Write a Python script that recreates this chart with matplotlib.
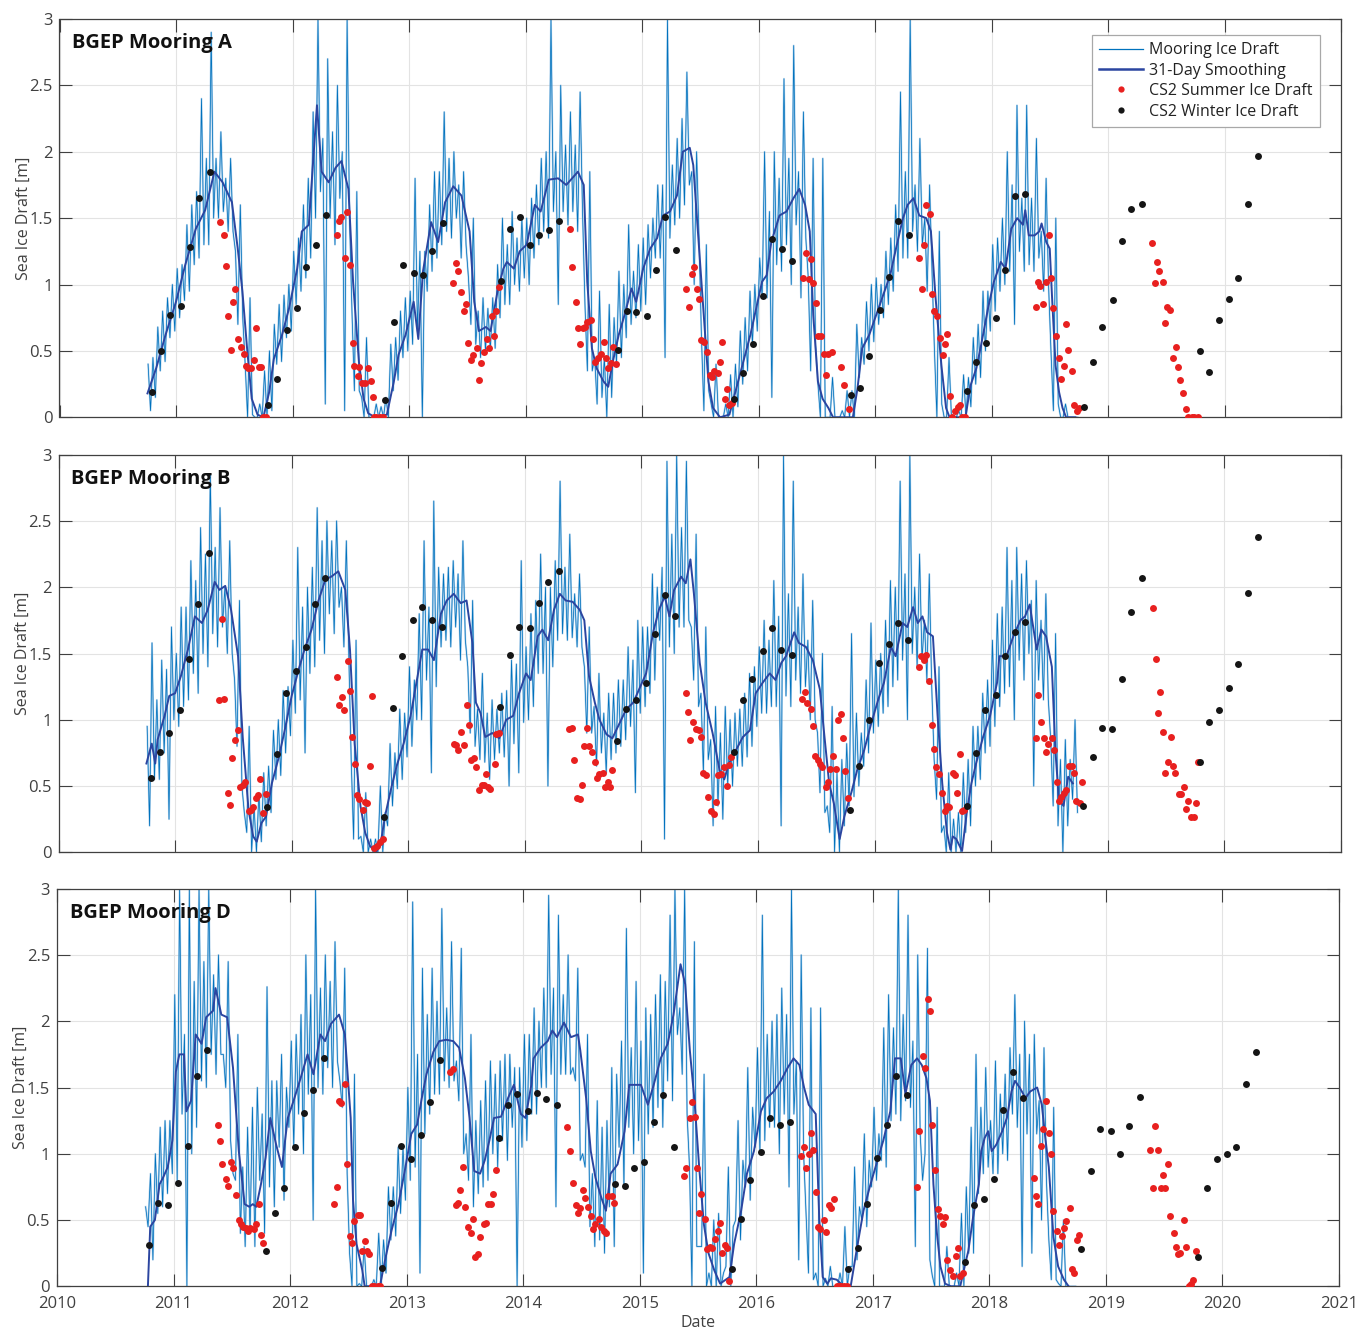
import numpy as np
import matplotlib.pyplot as plt
from matplotlib.lines import Line2D

plt.rcParams['font.family'] = ['Open Sans', 'DejaVu Sans']

# ---- mooring ice draft, monthly Oct 2010 .. Sep 2018 ----
# extremes of the daily record (spike tops / spike bottoms)
draft_hi_a = [0.45, 0.8, 1.0,
              1.15, 1.6, 2.4, 2.9, 2.15, 1.95, 1.6, 0.9, 0.1, 0.5, 0.85, 1.0,
              1.35, 1.8, 3.0, 2.7, 2.5, 3.0, 1.7, 0.6, 0.1, 0.15, 0.6, 0.9,
              1.8, 1.25, 1.85, 2.3, 2.0, 1.85, 1.5, 0.9, 0.9, 1.5, 1.55, 1.5,
              1.65, 1.95, 3.0, 2.5, 2.3, 2.45, 1.85, 0.95, 0.85, 1.1, 1.45, 1.3,
              1.45, 1.75, 3.0, 2.1, 2.6, 2.0, 1.3, 0.4, 0.1, 0.4, 0.75, 1.0,
              2.0, 2.0, 2.55, 2.8, 2.3, 1.95, 1.95, 0.3, 0.05, 0.2, 0.6, 1.0,
              1.0, 1.35, 2.45, 3.0, 2.1, 1.75, 1.4, 0.45, 0.05, 0.3, 0.7, 0.95,
              1.35, 2.0, 2.35, 2.35, 2.1, 1.8, 1.5, 0.1, 0.0]
draft_lo_a = [0.05, 0.35, 0.6,
              0.75, 0.95, 1.2, 1.3, 1.5, 1.4, 0.7, 0.0, 0.0, 0.0, 0.4, 0.6,
              0.85, 1.05, 1.5, 0.1, 1.3, 0.05, 0.2, 0.0, 0.0, 0.0, 0.2, 0.45,
              0.55, 0.0, 1.1, 1.3, 1.35, 1.2, 0.7, 0.45, 0.5, 0.75, 0.85, 0.95,
              1.0, 1.3, 1.35, 0.85, 1.45, 1.4, 0.35, 0.1, 0.0, 0.4, 0.6, 0.75,
              0.85, 1.2, 0.45, 1.45, 1.6, 1.0, 0.05, 0.0, 0.0, 0.0, 0.25, 0.55,
              0.9, 0.15, 1.1, 1.0, 0.9, 0.35, 0.0, 0.0, 0.0, 0.0, 0.3, 0.5,
              0.7, 0.85, 1.1, 1.2, 1.25, 0.95, 0.0, 0.0, 0.0, 0.0, 0.25, 0.5,
              0.8, 1.0, 0.7, 1.1, 1.1, 0.95, 0.05, 0.0, 0.0]
# typical upper / lower edge of the daily band
band_hi_a = [0.4, 0.68, 0.9,
             1.12, 1.45, 1.7, 1.95, 1.95, 1.8, 1.25, 0.4, 0.0, 0.35, 0.7, 0.92,
             1.25, 1.6, 2.3, 2.1, 2.15, 2.0, 0.8, 0.15, 0.0, 0.08, 0.55, 0.8,
             0.95, 1.25, 1.6, 1.85, 1.95, 1.75, 1.05, 0.8, 0.82, 1.15, 1.3, 1.35,
             1.5, 1.75, 2.0, 2.0, 2.05, 2.05, 0.85, 0.45, 0.45, 0.75, 1.0, 1.1,
             1.35, 1.5, 1.75, 1.9, 2.25, 1.85, 0.6, 0.1, 0.0, 0.32, 0.65, 0.95,
             1.2, 1.55, 1.8, 1.95, 1.85, 1.05, 0.25, 0.0, 0.0, 0.2, 0.7, 0.87,
             1.05, 1.25, 1.6, 1.85, 1.75, 1.5, 0.5, 0.0, 0.0, 0.32, 0.6, 0.95,
             1.3, 1.5, 1.75, 1.65, 1.65, 1.4, 0.5, 0.0, 0.0]
band_lo_a = [0.15, 0.42, 0.65,
             0.88, 1.15, 1.3, 1.5, 1.55, 1.4, 0.75, 0.02, 0.0, 0.05, 0.42, 0.65,
             0.95, 1.2, 1.7, 1.5, 1.65, 1.5, 0.2, 0.0, 0.0, 0.0, 0.28, 0.5,
             0.65, 0.95, 1.2, 1.4, 1.5, 1.3, 0.55, 0.5, 0.52, 0.85, 1.0, 1.05,
             1.2, 1.4, 1.55, 1.55, 1.55, 1.55, 0.35, 0.15, 0.15, 0.45, 0.7, 0.8,
             1.05, 1.2, 1.35, 1.5, 1.75, 1.35, 0.2, 0.0, 0.0, 0.08, 0.35, 0.65,
             0.9, 1.15, 1.3, 1.45, 1.35, 0.55, 0.0, 0.0, 0.0, 0.0, 0.4, 0.57,
             0.75, 0.95, 1.2, 1.4, 1.3, 1.1, 0.1, 0.0, 0.0, 0.08, 0.3, 0.65,
             0.95, 1.1, 1.25, 1.15, 1.2, 1.0, 0.1, 0.0, 0.0]

draft_hi_b = [1.58, 1.45, 1.7,
              1.85, 2.2, 2.45, 2.85, 2.6, 2.35, 1.9, 0.95, 0.45, 0.65, 1.0, 1.25,
              2.3, 2.0, 2.6, 2.5, 2.5, 2.35, 1.6, 0.45, 0.1, 0.3, 0.75, 1.05,
              1.3, 2.35, 2.65, 2.1, 2.2, 2.35, 1.9, 1.35, 1.15, 1.2, 1.45, 2.2,
              1.8, 2.25, 2.0, 2.8, 2.4, 2.1, 1.7, 1.35, 1.2, 1.3, 1.55, 1.75,
              1.7, 2.0, 2.95, 3.0, 2.95, 2.4, 1.7, 1.1, 1.1, 1.05, 1.2, 1.4,
              1.75, 2.05, 3.0, 2.8, 2.1, 1.9, 1.5, 1.1, 0.7, 1.65, 0.9, 1.73,
              1.5, 2.05, 2.8, 3.0, 2.25, 2.1, 1.4, 0.6, 0.3, 0.7, 0.95, 1.3,
              1.8, 2.3, 2.3, 2.2, 2.05, 1.95, 1.65, 0.85, 1.0]
draft_lo_b = [0.2, 0.55, 0.25,
              0.95, 1.15, 1.2, 1.4, 1.55, 1.5, 0.8, 0.15, 0.0, 0.2, 0.55, 0.75,
              1.05, 0.75, 1.4, 1.5, 1.65, 1.55, 0.1, 0.0, 0.0, 0.0, 0.35, 0.55,
              0.8, 1.0, 0.6, 1.55, 1.55, 1.45, 0.9, 0.7, 0.55, 0.75, 0.5, 0.6,
              1.0, 1.35, 0.5, 1.6, 1.6, 1.55, 0.9, 0.65, 0.6, 0.75, 0.85, 0.45,
              1.1, 1.3, 0.1, 1.5, 1.7, 1.3, 0.6, 0.2, 0.25, 0.5, 0.65, 0.8,
              1.05, 1.1, 0.2, 1.1, 1.2, 1.0, 0.45, 0.15, 0.0, 0.35, 0.5, 0.75,
              0.95, 1.1, 1.3, 1.0, 1.4, 1.3, 0.4, 0.0, 0.0, 0.15, 0.5, 0.75,
              0.95, 1.2, 1.0, 1.3, 0.5, 1.15, 0.35, 0.0, 0.4]
band_hi_b = [0.95, 1.15, 1.38,
             1.5, 1.85, 2.05, 2.25, 2.3, 2.0, 1.3, 0.3, 0.35, 0.6, 0.92, 1.22,
             1.6, 1.85, 2.15, 2.35, 2.35, 2.0, 0.7, 0.12, 0.1, 0.5, 0.82, 1.08,
             1.4, 1.8, 1.85, 2.15, 2.15, 2.1, 1.4, 1.08, 1.05, 1.08, 1.22, 1.42,
             1.55, 1.9, 2.0, 2.2, 2.15, 1.95, 1.4, 1.1, 1.05, 1.2, 1.3, 1.45,
             1.7, 2.1, 2.15, 2.4, 2.45, 1.7, 1.2, 0.85, 0.9, 1.0, 1.08, 1.35,
             1.55, 1.6, 1.78, 1.95, 1.85, 1.6, 0.9, 0.35, 0.6, 0.82, 1.05, 1.3,
             1.45, 1.75, 2.0, 2.1, 2.0, 1.75, 0.7, 0.2, 0.25, 0.6, 0.95, 1.2,
             1.6, 1.85, 2.05, 2.1, 1.9, 1.75, 0.85, 0.7, 0.7]
band_lo_b = [0.55, 0.75, 1.0,
             1.1, 1.35, 1.5, 1.65, 1.7, 1.5, 0.5, 0.0, 0.08, 0.3, 0.58, 0.88,
             1.15, 1.35, 1.6, 1.8, 1.85, 1.5, 0.1, 0.0, 0.0, 0.2, 0.48, 0.72,
             1.0, 1.3, 1.25, 1.6, 1.7, 1.6, 0.8, 0.68, 0.7, 0.72, 0.82, 0.98,
             1.1, 1.35, 1.4, 1.65, 1.62, 1.55, 0.9, 0.75, 0.7, 0.8, 0.95, 1.05,
             1.2, 1.6, 1.55, 1.7, 1.75, 1.1, 0.7, 0.35, 0.5, 0.65, 0.72, 0.95,
             1.05, 1.1, 1.18, 1.3, 1.25, 1.0, 0.3, 0.0, 0.2, 0.42, 0.65, 0.9,
             1.05, 1.25, 1.45, 1.5, 1.45, 1.25, 0.15, 0.0, 0.0, 0.2, 0.55, 0.8,
             1.1, 1.25, 1.45, 1.5, 1.3, 1.15, 0.2, 0.2, 0.3]

draft_hi_d = [0.85, 1.2, 1.25,
              3.0, 3.0, 3.0, 3.0, 2.5, 2.45, 1.9, 1.2, 1.5, 2.26, 1.55, 1.5,
              1.9, 2.5, 3.0, 2.5, 2.6, 2.4, 1.6, 0.3, 0.05, 0.35, 0.75, 1.05,
              2.9, 2.4, 2.4, 2.85, 2.6, 2.55, 1.9, 1.4, 1.7, 1.7, 1.75, 1.65,
              1.9, 2.0, 2.95, 2.8, 2.5, 2.4, 1.9, 1.4, 1.25, 1.6, 2.7, 2.3,
              2.1, 2.2, 2.3, 3.0, 3.0, 2.6, 1.6, 0.5, 0.1, 0.45, 0.95, 1.35,
              2.8, 2.0, 2.25, 3.0, 2.5, 2.1, 2.1, 0.15, 0.1, 0.15, 0.6, 0.95,
              1.15, 2.2, 3.0, 2.8, 2.5, 2.55, 1.35, 0.3, 0.1, 0.75, 1.75, 1.65,
              1.7, 1.6, 2.2, 2.0, 1.9, 1.8, 1.35, 0.5, 0.0]
draft_lo_d = [0.45, 0.55, 0.7,
              0.8, 0.0, 1.2, 1.5, 1.6, 1.5, 0.8, 0.3, 0.3, 0.4, 0.6, 0.65,
              1.05, 1.0, 0.5, 1.45, 1.5, 1.35, 0.0, 0.0, 0.0, 0.0, 0.35, 0.55,
              0.8, 0.1, 1.3, 1.45, 1.5, 1.4, 0.8, 0.7, 0.8, 0.9, 0.95, 0.0,
              1.1, 1.3, 1.5, 0.6, 1.6, 1.55, 0.9, 0.3, 0.25, 0.3, 0.75, 1.0,
              0.1, 1.2, 1.2, 1.4, 1.6, 0.0, 0.3, 0.0, 0.0, 0.0, 0.35, 0.65,
              1.0, 1.2, 1.0, 0.75, 0.2, 0.1, 0.0, 0.0, 0.0, 0.0, 0.2, 0.45,
              0.8, 0.9, 1.3, 1.4, 0.3, 1.0, 0.0, 0.0, 0.0, 0.0, 0.25, 0.85,
              0.85, 1.0, 1.3, 0.15, 0.25, 0.5, 0.05, 0.0, 0.0]
band_hi_d = [0.6, 1.0, 1.25,
             2.2, 1.9, 2.3, 2.45, 2.35, 1.75, 0.85, 0.9, 1.35, 1.3, 1.55, 1.75,
             1.85, 2.05, 2.2, 2.25, 2.3, 1.55, 0.25, 0.02, 0.0, 0.4, 0.75, 1.05,
             1.5, 1.75, 2.05, 2.15, 2.1, 1.7, 1.15, 1.25, 1.55, 1.6, 1.75, 1.65,
             1.9, 2.1, 2.25, 2.25, 2.2, 1.65, 1.0, 0.85, 1.2, 1.65, 1.85, 1.8,
             1.85, 2.05, 2.35, 2.8, 2.1, 0.9, 0.3, 0.1, 0.55, 0.9, 1.25, 1.65,
             1.8, 1.9, 2.05, 2.05, 1.7, 0.55, 0.1, 0.06, 0.0, 0.45, 0.9, 1.15,
             1.35, 1.95, 1.95, 2.05, 1.85, 0.8, 0.08, 0.0, 0.0, 0.55, 1.2, 1.35,
             1.25, 1.45, 1.8, 1.75, 1.75, 1.4, 0.35, 0.02, 0.0]
band_lo_d = [0.2, 0.6, 0.85,
             1.3, 1.0, 1.55, 1.75, 1.75, 1.1, 0.4, 0.4, 0.8, 0.75, 1.05, 1.2,
             1.3, 1.45, 1.5, 1.65, 1.7, 0.85, 0.0, 0.0, 0.0, 0.1, 0.38, 0.65,
             0.9, 1.15, 1.45, 1.55, 1.55, 1.0, 0.6, 0.75, 1.0, 1.1, 1.2, 1.05,
             1.3, 1.5, 1.6, 1.6, 1.6, 0.95, 0.45, 0.35, 0.6, 1.05, 1.2, 1.1,
             1.15, 1.35, 1.55, 1.9, 1.3, 0.3, 0.0, 0.0, 0.15, 0.5, 0.75, 1.05,
             1.1, 1.2, 1.3, 1.3, 1.0, 0.05, 0.0, 0.0, 0.0, 0.15, 0.5, 0.75,
             0.95, 1.25, 1.25, 1.35, 1.15, 0.2, 0.0, 0.0, 0.0, 0.25, 0.7, 0.9,
             0.85, 0.95, 1.2, 1.15, 1.15, 0.8, 0.05, 0.0, 0.0]

# ---- 31-day smoothed draft ----
smooth_t_a = [2010.755, 2010.83, 2010.91, 2011.0, 2011.08, 2011.17, 2011.25, 2011.33, 2011.40, 2011.48,
              2011.53, 2011.57, 2011.61, 2011.65, 2011.70, 2011.75, 2011.80, 2011.84, 2011.91, 2011.97,
              2012.04, 2012.08, 2012.14, 2012.21, 2012.25, 2012.31, 2012.37, 2012.42, 2012.48, 2012.52,
              2012.57, 2012.61, 2012.65, 2012.71, 2012.81, 2012.87, 2012.91, 2012.97, 2013.04, 2013.08,
              2013.12, 2013.19, 2013.25, 2013.31, 2013.38, 2013.45, 2013.52, 2013.56, 2013.60, 2013.66,
              2013.70, 2013.76, 2013.81, 2013.84, 2013.90, 2013.95, 2014.01, 2014.08, 2014.13, 2014.20,
              2014.28, 2014.35, 2014.40, 2014.45, 2014.50, 2014.53, 2014.57, 2014.61, 2014.67, 2014.71,
              2014.75, 2014.80, 2014.85, 2014.91, 2014.95, 2015.01, 2015.07, 2015.13, 2015.18, 2015.24,
              2015.30, 2015.35, 2015.41, 2015.44, 2015.48, 2015.53, 2015.57, 2015.61, 2015.67, 2015.75,
              2015.81, 2015.87, 2015.93, 2015.98, 2016.03, 2016.07, 2016.11, 2016.18, 2016.24, 2016.30,
              2016.35, 2016.40, 2016.44, 2016.47, 2016.51, 2016.55, 2016.60, 2016.64, 2016.81, 2016.85,
              2016.89, 2016.95, 2017.01, 2017.07, 2017.13, 2017.18, 2017.24, 2017.28, 2017.33, 2017.38,
              2017.44, 2017.48, 2017.52, 2017.57, 2017.61, 2017.64, 2017.76, 2017.78, 2017.82, 2017.87,
              2017.91, 2017.97, 2018.02, 2018.08, 2018.12, 2018.17, 2018.22, 2018.27, 2018.29, 2018.32,
              2018.37, 2018.41, 2018.43, 2018.47, 2018.50, 2018.52, 2018.55, 2018.58, 2018.61, 2018.64,
              2018.72]
smooth_v_a = [0.18, 0.37, 0.62, 0.87, 1.15, 1.42, 1.56, 1.85, 1.77, 1.62,
              1.27, 0.95, 0.52, 0.14, 0.02, 0.0, 0.19, 0.44, 0.62, 0.82,
              1.12, 1.40, 1.45, 2.35, 1.85, 1.77, 1.88, 1.93, 1.72, 1.02,
              0.42, 0.14, 0.03, 0.0, 0.02, 0.27, 0.47, 0.62, 0.87, 0.59,
              1.10, 1.47, 1.32, 1.62, 1.74, 1.67, 1.40, 0.87, 0.65, 0.68,
              0.65, 0.95, 1.12, 1.17, 1.12, 1.25, 1.30, 1.60, 1.55, 1.79,
              1.80, 1.75, 1.80, 1.85, 1.75, 1.02, 0.52, 0.37, 0.27, 0.23,
              0.42, 0.62, 0.77, 0.97, 0.87, 1.12, 1.27, 1.35, 1.52, 1.55,
              1.67, 2.00, 2.03, 1.90, 1.40, 0.77, 0.27, 0.07, 0.0, 0.02,
              0.22, 0.42, 0.62, 0.82, 1.02, 1.07, 1.32, 1.52, 1.55, 1.65,
              1.72, 1.60, 1.40, 0.77, 0.27, 0.14, 0.07, 0.0, 0.0, 0.22,
              0.52, 0.62, 0.77, 0.92, 1.07, 1.27, 1.50, 1.60, 1.65, 1.52,
              1.50, 1.40, 0.90, 0.39, 0.07, 0.0, 0.0, 0.02, 0.24, 0.37,
              0.54, 0.82, 1.02, 1.17, 1.12, 1.42, 1.50, 1.45, 1.56, 1.37,
              1.37, 1.40, 1.46, 1.32, 1.27, 0.90, 0.39, 0.19, 0.07, 0.0,
              0.0]

smooth_t_b = [2010.754, 2010.80, 2010.83, 2010.85, 2010.91, 2010.95, 2011.0, 2011.05, 2011.11, 2011.17,
              2011.23, 2011.28, 2011.34, 2011.38, 2011.43, 2011.48, 2011.54, 2011.58, 2011.63, 2011.67,
              2011.70, 2011.74, 2011.78, 2011.83, 2011.89, 2011.94, 2012.0, 2012.06, 2012.11, 2012.17,
              2012.23, 2012.29, 2012.34, 2012.40, 2012.46, 2012.50, 2012.54, 2012.59, 2012.63, 2012.67,
              2012.72, 2012.76, 2012.80, 2012.85, 2012.90, 2012.96, 2013.02, 2013.06, 2013.12, 2013.17,
              2013.22, 2013.28, 2013.33, 2013.39, 2013.45, 2013.50, 2013.55, 2013.58, 2013.62, 2013.66,
              2013.72, 2013.78, 2013.84, 2013.90, 2013.95, 2014.01, 2014.05, 2014.11, 2014.15, 2014.20,
              2014.25, 2014.30, 2014.35, 2014.41, 2014.47, 2014.51, 2014.55, 2014.60, 2014.64, 2014.70,
              2014.75, 2014.81, 2014.87, 2014.93, 2014.98, 2015.04, 2015.10, 2015.15, 2015.20, 2015.24,
              2015.28, 2015.34, 2015.38, 2015.42, 2015.45, 2015.50, 2015.55, 2015.61, 2015.67, 2015.71,
              2015.75, 2015.81, 2015.87, 2015.93, 2015.98, 2016.04, 2016.10, 2016.15, 2016.20, 2016.24,
              2016.31, 2016.35, 2016.41, 2016.47, 2016.53, 2016.57, 2016.61, 2016.65, 2016.70, 2016.74,
              2016.80, 2016.85, 2016.91, 2016.97, 2017.03, 2017.08, 2017.14, 2017.18, 2017.24, 2017.28,
              2017.33, 2017.37, 2017.41, 2017.45, 2017.50, 2017.54, 2017.58, 2017.62, 2017.65, 2017.67,
              2017.70, 2017.75, 2017.79, 2017.83, 2017.87, 2017.93, 2017.99, 2018.05, 2018.07, 2018.13,
              2018.19, 2018.25, 2018.29, 2018.33, 2018.39, 2018.43, 2018.47, 2018.52, 2018.55, 2018.58,
              2018.62, 2018.66, 2018.70]
smooth_v_b = [0.67, 0.82, 0.67, 0.85, 1.03, 1.18, 1.20, 1.33, 1.53, 1.78,
              1.73, 1.83, 2.04, 1.98, 2.01, 1.83, 1.48, 0.87, 0.32, 0.12,
              0.08, 0.22, 0.27, 0.52, 0.72, 0.92, 1.18, 1.38, 1.53, 1.68,
              1.90, 2.06, 2.08, 2.12, 1.98, 1.53, 0.82, 0.35, 0.15, 0.05,
              0.0, 0.05, 0.27, 0.47, 0.65, 0.82, 1.03, 1.23, 1.53, 1.53,
              1.45, 1.80, 1.90, 1.95, 1.88, 1.90, 1.58, 1.13, 1.05, 0.87,
              0.90, 0.86, 1.00, 1.03, 1.20, 1.35, 1.30, 1.63, 1.68, 1.60,
              1.83, 1.95, 1.90, 1.89, 1.83, 1.75, 1.33, 1.13, 1.00, 0.89,
              0.86, 0.97, 1.08, 1.13, 1.23, 1.35, 1.66, 1.83, 1.93, 1.78,
              1.98, 2.08, 2.03, 2.21, 1.95, 1.43, 1.13, 0.90, 0.62, 0.55,
              0.67, 0.77, 0.87, 0.92, 1.20, 1.28, 1.35, 1.30, 1.43, 1.48,
              1.66, 1.58, 1.55, 1.45, 1.23, 0.87, 0.52, 0.37, 0.10, 0.27,
              0.45, 0.62, 0.77, 0.97, 1.15, 1.28, 1.55, 1.48, 1.73, 1.70,
              1.85, 1.73, 1.78, 1.66, 1.63, 1.03, 0.52, 0.15, 0.02, 0.12,
              0.10, 0.01, 0.30, 0.52, 0.67, 0.87, 1.03, 1.28, 1.48, 1.48,
              1.63, 1.75, 1.78, 1.87, 1.53, 1.68, 1.63, 1.40, 0.77, 0.40,
              0.35, 0.57, 0.52]

smooth_t_d = [2010.78, 2010.80, 2010.84, 2010.88, 2010.91, 2010.95, 2010.99, 2011.02, 2011.05, 2011.09,
              2011.11, 2011.15, 2011.19, 2011.24, 2011.28, 2011.34, 2011.36, 2011.41, 2011.46, 2011.51,
              2011.56, 2011.61, 2011.65, 2011.68, 2011.71, 2011.75, 2011.79, 2011.83, 2011.88, 2011.93,
              2011.98, 2012.03, 2012.09, 2012.15, 2012.20, 2012.26, 2012.30, 2012.35, 2012.42, 2012.47,
              2012.52, 2012.54, 2012.57, 2012.62, 2012.64, 2012.77, 2012.82, 2012.87, 2012.93, 2012.99,
              2013.04, 2013.09, 2013.13, 2013.17, 2013.23, 2013.28, 2013.34, 2013.40, 2013.45, 2013.50,
              2013.54, 2013.58, 2013.63, 2013.67, 2013.71, 2013.75, 2013.81, 2013.87, 2013.92, 2013.98,
              2014.02, 2014.07, 2014.09, 2014.15, 2014.21, 2014.25, 2014.29, 2014.35, 2014.41, 2014.47,
              2014.49, 2014.54, 2014.58, 2014.62, 2014.67, 2014.71, 2014.75, 2014.81, 2014.87, 2014.91,
              2014.95, 2015.01, 2015.07, 2015.12, 2015.18, 2015.24, 2015.29, 2015.35, 2015.39, 2015.43,
              2015.47, 2015.51, 2015.55, 2015.59, 2015.64, 2015.69, 2015.77, 2015.81, 2015.87, 2015.92,
              2015.98, 2016.04, 2016.09, 2016.15, 2016.21, 2016.27, 2016.32, 2016.37, 2016.41, 2016.45,
              2016.51, 2016.54, 2016.57, 2016.61, 2016.64, 2016.69, 2016.75, 2016.81, 2016.87, 2016.92,
              2016.98, 2017.04, 2017.09, 2017.15, 2017.19, 2017.24, 2017.28, 2017.33, 2017.38, 2017.42,
              2017.46, 2017.49, 2017.52, 2017.55, 2017.58, 2017.62, 2017.67, 2017.75, 2017.78, 2017.82,
              2017.86, 2017.91, 2017.93, 2017.96, 2017.99, 2018.02, 2018.06, 2018.11, 2018.15, 2018.19,
              2018.22, 2018.26, 2018.31, 2018.35, 2018.41, 2018.45, 2018.48, 2018.51, 2018.55, 2018.59,
              2018.64, 2018.68]
smooth_v_d = [0.0, 0.45, 0.50, 0.77, 0.82, 0.90, 1.10, 1.62, 1.75, 1.75,
              1.32, 1.40, 1.90, 1.83, 2.03, 2.08, 2.25, 2.05, 2.03, 1.65,
              1.02, 0.62, 0.60, 0.62, 0.60, 0.77, 0.97, 1.27, 1.07, 0.90,
              1.27, 1.40, 1.57, 1.75, 1.60, 1.90, 1.85, 1.98, 2.05, 1.90,
              1.27, 0.65, 0.32, 0.12, 0.0, 0.0, 0.22, 0.42, 0.62, 0.90,
              1.15, 1.22, 1.42, 1.60, 1.77, 1.85, 1.86, 1.85, 1.80, 1.57,
              1.27, 0.87, 0.85, 0.95, 1.10, 1.27, 1.28, 1.42, 1.52, 1.30,
              1.27, 1.52, 1.72, 1.80, 1.85, 1.93, 1.88, 1.99, 1.88, 1.90,
              1.78, 1.42, 1.02, 0.82, 0.67, 0.57, 0.85, 0.92, 1.17, 1.52,
              1.52, 1.52, 1.37, 1.52, 1.72, 1.83, 2.05, 2.43, 2.28, 1.78,
              1.40, 0.90, 0.47, 0.25, 0.12, 0.02, 0.07, 0.32, 0.57, 0.85,
              1.02, 1.32, 1.42, 1.47, 1.55, 1.65, 1.72, 1.67, 1.50, 1.37,
              1.30, 0.52, 0.07, 0.02, 0.06, 0.05, 0.0, 0.0, 0.32, 0.57,
              0.77, 0.95, 1.10, 1.32, 1.72, 1.72, 1.45, 1.67, 1.72, 1.67,
              1.57, 1.40, 0.77, 0.40, 0.15, 0.02, 0.0, 0.0, 0.12, 0.27,
              0.52, 0.77, 1.02, 1.12, 1.17, 1.02, 1.07, 1.17, 1.27, 1.47,
              1.55, 1.50, 1.42, 1.47, 1.50, 1.37, 1.12, 0.90, 0.37, 0.15,
              0.05, 0.0]

# ---- CryoSat-2 winter draft, mid-month Oct..Apr, winters 2010/11 .. 2019/20 ----
winter_month_frac = [0.79, 0.87, 0.95, 1.04, 1.12, 1.20, 1.29]
winter_start_years = list(range(2010, 2020))
winter_a = [0.19, 0.50, 0.77, 0.84, 1.28, 1.65, 1.85,
            0.09, 0.29, 0.66, 0.82, 1.13, 1.30, 1.52,
            0.13, 0.72, 1.15, 1.09, 1.07, 1.25, 1.46,
            1.03, 1.42, 1.51, 1.30, 1.37, 1.41, 1.48,
            0.51, 0.80, 0.79, 0.76, 1.11, 1.51, 1.26,
            0.14, 0.33, 0.55, 0.91, 1.34, 1.27, 1.18,
            0.17, 0.22, 0.46, 0.81, 1.06, 1.48, 1.37,
            0.20, 0.42, 0.56, 0.75, 1.11, 1.67, 1.68,
            0.08, 0.42, 0.68, 0.88, 1.33, 1.57, 1.61,
            0.50, 0.34, 0.73, 0.89, 1.05, 1.61, 1.97]
winter_b = [0.56, 0.76, 0.90, 1.07, 1.46, 1.87, 2.26,
            0.34, 0.74, 1.20, 1.37, 1.55, 1.87, 2.07,
            0.27, 1.09, 1.48, 1.75, 1.85, 1.75, 1.70,
            1.10, 1.49, 1.70, 1.69, 1.88, 2.04, 2.12,
            0.84, 1.08, 1.15, 1.28, 1.65, 1.94, 1.78,
            0.76, 1.15, 1.31, 1.52, 1.69, 1.53, 1.49,
            0.32, 0.65, 1.00, 1.43, 1.57, 1.73, 1.60,
            0.35, 0.75, 1.07, 1.19, 1.48, 1.66, 1.74,
            0.35, 0.72, 0.94, 0.93, 1.31, 1.81, 2.07,
            0.68, 0.98, 1.07, 1.24, 1.42, 1.96, 2.38]
winter_d = [0.31, 0.63, 0.61, 0.78, 1.06, 1.59, 1.78,
            0.27, 0.55, 0.74, 1.05, 1.31, 1.48, 1.72,
            0.14, 0.63, 1.06, 0.96, 1.14, 1.39, 1.71,
            1.12, 1.37, 1.45, 1.32, 1.46, 1.41, 1.37,
            0.77, 0.76, 0.89, 0.94, 1.24, 1.44, 1.05,
            0.13, 0.51, 0.80, 1.01, 1.27, 1.22, 1.24,
            0.13, 0.29, 0.62, 0.97, 1.22, 1.59, 1.44,
            0.18, 0.61, 0.66, 0.81, 1.33, 1.62, 1.42,
            0.28, 0.87, 1.19, 1.17, 1.00, 1.21, 1.43,
            0.22, 0.74, 0.96, 1.00, 1.05, 1.53, 1.77]

# ---- CryoSat-2 summer draft (t, value) ----
summer_t_a = [2011.38, 2011.41, 2011.43, 2011.45, 2011.47, 2011.49, 2011.51, 2011.53, 2011.56, 2011.58,
              2011.60, 2011.62, 2011.64, 2011.67, 2011.69, 2011.71, 2011.73, 2011.75, 2011.77,
              2012.38, 2012.40, 2012.42, 2012.45, 2012.47, 2012.49, 2012.52, 2012.53, 2012.56, 2012.57,
              2012.60, 2012.62, 2012.65, 2012.67, 2012.69, 2012.70, 2012.72, 2012.75, 2012.78,
              2013.38, 2013.40, 2013.42, 2013.45, 2013.47, 2013.49, 2013.51, 2013.53, 2013.55, 2013.58,
              2013.60, 2013.62, 2013.64, 2013.67, 2013.69, 2013.71, 2013.73, 2013.75, 2013.77,
              2014.38, 2014.40, 2014.43, 2014.45, 2014.47, 2014.49, 2014.51, 2014.53, 2014.56, 2014.58,
              2014.60, 2014.62, 2014.65, 2014.67, 2014.69, 2014.71, 2014.73, 2014.75, 2014.78,
              2015.38, 2015.40, 2015.43, 2015.45, 2015.47, 2015.49, 2015.51, 2015.53, 2015.56, 2015.58,
              2015.60, 2015.62, 2015.65, 2015.67, 2015.69, 2015.71, 2015.73, 2015.75, 2015.77,
              2016.38, 2016.41, 2016.43, 2016.45, 2016.47, 2016.49, 2016.51, 2016.54, 2016.56, 2016.58,
              2016.60, 2016.63, 2016.71, 2016.73, 2016.78,
              2017.38, 2017.40, 2017.42, 2017.44, 2017.47, 2017.49, 2017.51, 2017.53, 2017.56, 2017.58,
              2017.60, 2017.62, 2017.64, 2017.66, 2017.69, 2017.71, 2017.73, 2017.75, 2017.77,
              2018.38, 2018.40, 2018.42, 2018.44, 2018.47, 2018.49, 2018.51, 2018.53, 2018.55, 2018.58,
              2018.60, 2018.62, 2018.64, 2018.66, 2018.69, 2018.71, 2018.73, 2018.75,
              2019.38, 2019.40, 2019.42, 2019.44, 2019.47, 2019.49, 2019.51, 2019.53, 2019.56, 2019.58,
              2019.60, 2019.62, 2019.64, 2019.67, 2019.69, 2019.72, 2019.74, 2019.77]
summer_v_a = [1.47, 1.37, 1.14, 0.76, 0.51, 0.87, 0.97, 0.59, 0.53, 0.48,
              0.39, 0.37, 0.37, 0.43, 0.67, 0.38, 0.38, 0.0, 0.0,
              1.37, 1.48, 1.51, 1.20, 1.55, 1.15, 0.56, 0.39, 0.31, 0.38,
              0.26, 0.26, 0.37, 0.27, 0.15, 0.0, 0.0, 0.0, 0.0,
              1.01, 1.16, 1.10, 0.94, 0.80, 0.85, 0.56, 0.43, 0.47, 0.52,
              0.28, 0.41, 0.49, 0.59, 0.52, 0.76, 0.61, 0.80, 0.98,
              1.42, 1.13, 0.87, 0.67, 0.55, 0.67, 0.68, 0.72, 0.73, 0.59,
              0.42, 0.45, 0.48, 0.57, 0.45, 0.37, 0.41, 0.53, 0.40,
              0.97, 0.83, 1.08, 1.13, 0.97, 0.89, 0.58, 0.57, 0.49, 0.32,
              0.30, 0.35, 0.33, 0.42, 0.57, 0.14, 0.21, 0.09, 0.11,
              1.05, 1.24, 1.04, 1.19, 1.01, 0.86, 0.61, 0.61, 0.48, 0.32,
              0.48, 0.49, 0.38, 0.24, 0.06,
              1.20, 0.97, 1.30, 1.60, 1.53, 0.93, 0.80, 0.76, 0.60, 0.47,
              0.55, 0.63, 0.16, 0.0, 0.05, 0.08, 0.09, 0.0, 0.0,
              0.83, 1.02, 0.99, 0.85, 1.02, 1.37, 1.05, 0.82, 0.61, 0.45,
              0.29, 0.39, 0.70, 0.51, 0.35, 0.09, 0.05, 0.07,
              1.31, 1.01, 1.17, 1.10, 1.02, 0.71, 0.83, 0.81, 0.45, 0.53,
              0.38, 0.28, 0.18, 0.06, 0.0, 0.0, 0.0, 0.0]

summer_t_b = [2011.38, 2011.40, 2011.42, 2011.45, 2011.47, 2011.49, 2011.51, 2011.54, 2011.56, 2011.58,
              2011.60, 2011.63, 2011.65, 2011.67, 2011.69, 2011.71, 2011.73, 2011.75, 2011.78,
              2012.39, 2012.41, 2012.43, 2012.45, 2012.48, 2012.50, 2012.52, 2012.54, 2012.56, 2012.58,
              2012.61, 2012.63, 2012.65, 2012.67, 2012.69, 2012.71, 2012.73, 2012.76, 2012.78,
              2013.39, 2013.41, 2013.43, 2013.45, 2013.48, 2013.50, 2013.52, 2013.54, 2013.56, 2013.58,
              2013.61, 2013.63, 2013.65, 2013.67, 2013.68, 2013.70, 2013.74, 2013.75, 2013.78,
              2014.38, 2014.40, 2014.42, 2014.45, 2014.47, 2014.49, 2014.51, 2014.53, 2014.55, 2014.58,
              2014.60, 2014.62, 2014.64, 2014.67, 2014.69, 2014.71, 2014.73, 2014.75,
              2015.38, 2015.40, 2015.42, 2015.44, 2015.47, 2015.49, 2015.51, 2015.53, 2015.55, 2015.57,
              2015.60, 2015.62, 2015.64, 2015.66, 2015.68, 2015.71, 2015.73, 2015.75, 2015.77,
              2016.38, 2016.40, 2016.42, 2016.45, 2016.47, 2016.49, 2016.51, 2016.53, 2016.55, 2016.58,
              2016.60, 2016.62, 2016.64, 2016.67, 2016.69, 2016.71, 2016.73, 2016.75, 2016.77,
              2017.38, 2017.40, 2017.42, 2017.44, 2017.47, 2017.49, 2017.51, 2017.53, 2017.55, 2017.58,
              2017.60, 2017.62, 2017.64, 2017.67, 2017.69, 2017.71, 2017.73, 2017.75, 2017.77,
              2018.38, 2018.40, 2018.43, 2018.45, 2018.47, 2018.49, 2018.52, 2018.54, 2018.56, 2018.58,
              2018.60, 2018.62, 2018.64, 2018.67, 2018.69, 2018.71, 2018.73, 2018.76, 2018.78,
              2019.39, 2019.41, 2019.43, 2019.45, 2019.47, 2019.49, 2019.52, 2019.54, 2019.56, 2019.58,
              2019.61, 2019.63, 2019.65, 2019.67, 2019.69, 2019.71, 2019.74, 2019.76, 2019.77]
summer_v_b = [1.15, 1.76, 1.16, 0.45, 0.36, 0.71, 0.85, 0.92, 0.49, 0.51,
              0.53, 0.31, 0.32, 0.34, 0.41, 0.43, 0.55, 0.30, 0.44,
              1.32, 1.11, 1.17, 1.07, 1.44, 1.22, 0.87, 0.67, 0.43, 0.40,
              0.32, 0.38, 0.37, 0.65, 1.18, 0.03, 0.05, 0.08, 0.10,
              0.82, 0.81, 0.77, 0.91, 0.81, 1.11, 0.96, 0.70, 0.71, 0.64,
              0.47, 0.51, 0.51, 0.59, 0.49, 0.48, 0.67, 0.89, 0.90,
              0.93, 0.94, 0.70, 0.41, 0.40, 0.51, 0.80, 0.94, 0.80, 0.76,
              0.68, 0.56, 0.59, 0.60, 0.49, 0.53, 0.49, 0.62,
              1.20, 1.06, 0.85, 0.98, 0.93, 0.92, 0.87, 0.60, 0.58, 0.42,
              0.31, 0.29, 0.38, 0.58, 0.59, 0.64, 0.50, 0.66, 0.72,
              1.16, 1.21, 1.13, 1.08, 0.95, 0.73, 0.70, 0.67, 0.64, 0.49,
              0.53, 0.63, 0.73, 0.63, 1.00, 1.04, 0.86, 0.61, 0.41,
              1.40, 1.48, 1.45, 1.49, 1.29, 0.96, 0.78, 0.64, 0.59, 0.45,
              0.31, 0.35, 0.34, 0.60, 0.58, 0.45, 0.74, 0.31, 0.32,
              0.86, 1.19, 0.98, 0.86, 0.76, 0.82, 0.86, 0.77, 0.53, 0.39,
              0.42, 0.45, 0.47, 0.65, 0.65, 0.60, 0.39, 0.37, 0.53,
              1.84, 1.46, 1.05, 1.21, 0.91, 0.60, 0.68, 0.87, 0.65, 0.60,
              0.44, 0.44, 0.49, 0.33, 0.39, 0.27, 0.27, 0.37, 0.68]

summer_t_d = [2011.38, 2011.40, 2011.42, 2011.45, 2011.47, 2011.49, 2011.51, 2011.54, 2011.56, 2011.58,
              2011.60, 2011.62, 2011.64, 2011.66, 2011.69, 2011.71, 2011.73, 2011.75, 2011.77,
              2012.38, 2012.40, 2012.42, 2012.44, 2012.47, 2012.49, 2012.51, 2012.53, 2012.55, 2012.58,
              2012.60, 2012.62, 2012.64, 2012.66, 2012.68, 2012.70, 2012.72, 2012.75, 2012.77,
              2013.37, 2013.40, 2013.42, 2013.44, 2013.46, 2013.48, 2013.50, 2013.53, 2013.55, 2013.57,
              2013.59, 2013.61, 2013.63, 2013.66, 2013.68, 2013.70, 2013.72, 2013.74, 2013.77,
              2014.38, 2014.40, 2014.43, 2014.45, 2014.47, 2014.49, 2014.51, 2014.53, 2014.56, 2014.58,
              2014.60, 2014.62, 2014.65, 2014.67, 2014.69, 2014.71, 2014.73, 2014.76, 2014.78,
              2015.38, 2015.40, 2015.43, 2015.45, 2015.47, 2015.49, 2015.51, 2015.53, 2015.56, 2015.58,
              2015.60, 2015.62, 2015.65, 2015.67, 2015.69, 2015.71, 2015.73, 2015.75, 2015.77,
              2016.38, 2016.41, 2016.43, 2016.45, 2016.47, 2016.49, 2016.51, 2016.53, 2016.55, 2016.58,
              2016.60, 2016.62, 2016.64, 2016.67, 2016.69, 2016.71, 2016.73, 2016.75, 2016.78,
              2017.38, 2017.40, 2017.43, 2017.45, 2017.47, 2017.49, 2017.51, 2017.53, 2017.56, 2017.58,
              2017.60, 2017.62, 2017.64, 2017.66, 2017.69, 2017.71, 2017.73, 2017.75, 2017.77,
              2018.38, 2018.40, 2018.42, 2018.44, 2018.46, 2018.49, 2018.51, 2018.53, 2018.55, 2018.58,
              2018.60, 2018.62, 2018.64, 2018.66, 2018.69, 2018.71, 2018.73, 2018.75, 2018.77,
              2019.38, 2019.40, 2019.42, 2019.45, 2019.47, 2019.49, 2019.51, 2019.53, 2019.55, 2019.58,
              2019.60, 2019.62, 2019.64, 2019.67, 2019.69, 2019.71, 2019.73, 2019.75, 2019.77]
summer_v_d = [1.22, 1.10, 0.92, 0.81, 0.76, 0.94, 0.89, 0.69, 0.50, 0.47,
              0.45, 0.44, 0.42, 0.44, 0.43, 0.47, 0.62, 0.39, 0.33,
              0.62, 0.75, 1.40, 1.38, 1.53, 0.92, 0.38, 0.33, 0.49, 0.54,
              0.54, 0.27, 0.34, 0.27, 0.24, 0.0, 0.0, 0.0, 0.0,
              1.62, 1.64, 0.61, 0.63, 0.73, 0.90, 0.60, 0.45, 0.40, 0.51,
              0.22, 0.24, 0.37, 0.47, 0.48, 0.62, 0.62, 0.70, 0.88,
              1.20, 1.02, 0.78, 0.61, 0.55, 0.59, 0.73, 0.67, 0.60, 0.53,
              0.43, 0.47, 0.51, 0.45, 0.42, 0.40, 0.68, 0.68, 0.63,
              0.83, 0.89, 1.27, 1.39, 1.28, 0.89, 0.55, 0.70, 0.51, 0.28,
              0.30, 0.29, 0.36, 0.42, 0.48, 0.25, 0.31, 0.29, 0.04,
              0.98, 1.05, 0.89, 1.00, 1.16, 1.03, 0.71, 0.45, 0.43, 0.50,
              0.41, 0.61, 0.59, 0.66, 0.0, 0.0, 0.0, 0.0, 0.0,
              0.75, 1.17, 1.74, 1.65, 2.17, 2.08, 1.22, 0.88, 0.58, 0.53,
              0.47, 0.52, 0.20, 0.12, 0.08, 0.23, 0.29, 0.08, 0.10,
              0.82, 0.68, 0.62, 1.06, 1.19, 1.40, 1.16, 1.00, 0.57, 0.42,
              0.31, 0.38, 0.44, 0.49, 0.59, 0.13, 0.10, 0.35, 0.39,
              1.03, 0.74, 1.21, 1.03, 0.74, 0.84, 0.74, 0.92, 0.53, 0.40,
              0.30, 0.24, 0.25, 0.50, 0.30, 0.0, 0.02, 0.05, 0.27]

panels = [
    ('BGEP Mooring A', draft_hi_a, draft_lo_a, band_hi_a, band_lo_a,
     smooth_t_a, smooth_v_a, summer_t_a, summer_v_a, winter_a),
    ('BGEP Mooring B', draft_hi_b, draft_lo_b, band_hi_b, band_lo_b,
     smooth_t_b, smooth_v_b, summer_t_b, summer_v_b, winter_b),
    ('BGEP Mooring D', draft_hi_d, draft_lo_d, band_hi_d, band_lo_d,
     smooth_t_d, smooth_v_d, summer_t_d, summer_v_d, winter_d),
]

# axes boxes in pixels: left, top, right, bottom
boxes = [(59.5, 19, 1341, 417.3), (58.5, 454.7, 1341, 852.3), (57, 888.7, 1339, 1286.3)]

winter_t = [y + f for y in winter_start_years for f in winter_month_frac]

W, H = 1360, 1330
fig = plt.figure(figsize=(W / 100, H / 100), dpi=100)
gray = '#404040'
draft_color = '#0072BD'
smooth_color = '#2B45A0'

for i, (name, hi, lo, bhi, blo, st, sv, sumt, sumv, win) in enumerate(panels):
    l, t, r, b = boxes[i]
    ax = fig.add_axes([l / W, 1 - b / H, (r - l) / W, (b - t) / H])

    # four samples per month: band top, low spike, high spike, band bottom
    month0 = 2010.75 + np.arange(len(hi)) / 12.0
    n = len(hi)
    dt = np.empty(4 * n)
    dv = np.empty(4 * n)
    for k, (frac, vals) in enumerate([(0.125, bhi), (0.375, lo), (0.625, hi), (0.875, blo)]):
        dt[k::4] = month0 + frac / 12.0
        dv[k::4] = vals

    ax.plot(dt, dv, color='#8bbbe3', lw=1.4, alpha=0.6, zorder=2)
    ax.plot(dt, dv, color=draft_color, lw=0.55, zorder=2)
    ax.plot(st, sv, color=smooth_color, lw=1.4, zorder=3)
    ax.plot(sumt, sumv, 'o', color='#E8201F', ms=5, mec='none', zorder=4)
    ax.plot(winter_t, win, 'o', color='#151515', ms=5, mec='none', zorder=5)

    ax.set_xlim(2010, 2021)
    ax.set_ylim(0, 3)
    ax.set_xticks(range(2010, 2022))
    ax.set_yticks([0, 0.5, 1, 1.5, 2, 2.5, 3])
    ax.set_yticklabels(['0', '0.5', '1', '1.5', '2', '2.5', '3'])
    ax.grid(True, color='#e3e3e3', lw=0.8)
    ax.set_axisbelow(True)
    ax.tick_params(direction='in', length=9, width=0.8, top=True, right=True,
                   color=gray, labelcolor=gray, labelsize=12, pad=5)
    for sp in ax.spines.values():
        sp.set_color(gray)
        sp.set_linewidth(0.9)
    ax.set_ylabel('Sea Ice Draft [m]', fontsize=11.5, color=gray, labelpad=-2)
    ax.text(0.0098, 0.94, name, transform=ax.transAxes, fontsize=14.5,
            fontweight='bold', color='#111111', va='center', ha='left', zorder=6)

    if i < 2:
        ax.tick_params(labelbottom=False)
    else:
        ax.tick_params(axis='x', pad=7)
        ax.set_xlabel('Date', fontsize=11.5, color=gray, labelpad=2)

    if i == 0:
        handles = [
            Line2D([], [], color=draft_color, lw=0.9),
            Line2D([], [], color=smooth_color, lw=1.8),
            Line2D([], [], ls='none', marker='o', color='#E8201F', ms=4.5, mec='none'),
            Line2D([], [], ls='none', marker='o', color='#151515', ms=4.5, mec='none'),
        ]
        labels = ['Mooring Ice Draft', '31-Day Smoothing', 'CS2 Summer Ice Draft', 'CS2 Winter Ice Draft']
        leg = ax.legend(handles, labels, loc='upper right', bbox_to_anchor=(0.9836, 0.960),
                        borderaxespad=0, fontsize=11.5, frameon=True, fancybox=False,
                        edgecolor='#a8a8a8', framealpha=1, handlelength=2.75,
                        handletextpad=0.4, labelspacing=0.28, borderpad=0.45)
        leg.get_frame().set_linewidth(0.9)
        for txt in leg.get_texts():
            txt.set_color('#222222')

fig.savefig('out.png', dpi=100)
